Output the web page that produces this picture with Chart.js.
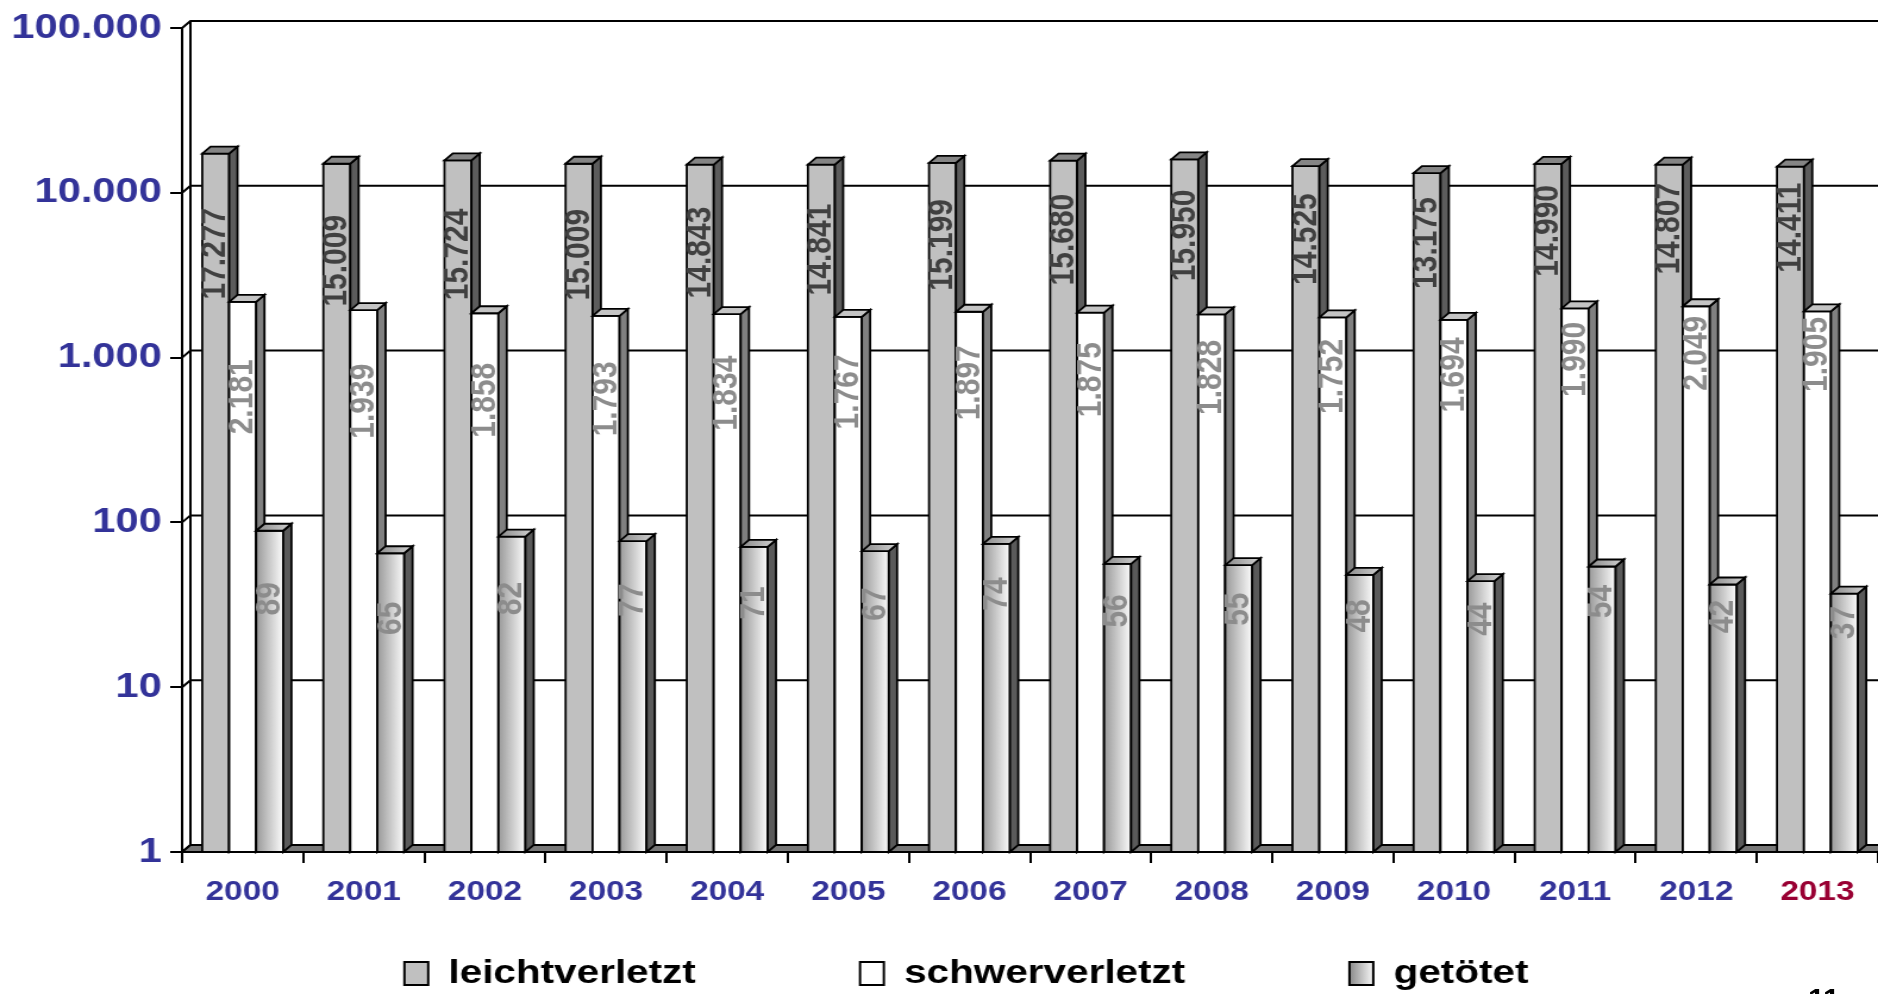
<!DOCTYPE html>
<html>
<head>
<meta charset="utf-8">
<title>Verunglückte 2000 - 2013</title>
<script src="https://cdn.jsdelivr.net/npm/chart.js@4.4.1/dist/chart.umd.min.js"></script>
<style>
    html, body { margin: 0; padding: 0; background: #fff; overflow: hidden; }
    #wrap { position: relative; width: 1878px; height: 994px; overflow: hidden; }
    /* the original picture is stretched sideways, so the canvas is drawn narrower and scaled up */
    #chart { display: block; width: 1878px !important; height: 994px !important; }
    #page { position: absolute; left: 1808px; top: 984px; font: bold 30px 'Liberation Sans', Arial, sans-serif; line-height: 30px; color: #000; }
</style>
</head>
<body>
<div id="wrap">
    <canvas id="chart" width="1578" height="994" style="width:1878px;height:994px"></canvas>
    <div id="page">11</div>
</div>
<script>
// Data
const years = ['2000', '2001', '2002', '2003', '2004', '2005', '2006', '2007', '2008', '2009', '2010', '2011', '2012', '2013'];
const leichtverletzt = [17277, 15009, 15724, 15009, 14843, 14841, 15199, 15680, 15950, 14525, 13175, 14990, 14807, 14411];
const schwerverletzt = [2181, 1939, 1858, 1793, 1834, 1767, 1897, 1875, 1828, 1752, 1694, 1990, 2049, 1905];
const getoetet = [89, 65, 82, 77, 71, 67, 74, 56, 55, 48, 44, 54, 42, 37];
const seriesNames = ['leichtverletzt', 'schwerverletzt', 'getötet'];
const yTickValues = [1, 10, 100, 1000, 10000, 100000];
const yTickLabels = ['1', '10', '100', '1.000', '10.000', '100.000'];

const FONT = "'Liberation Sans', Arial, sans-serif";
const DX = 7;   // 3d depth
const DY = -7;

Chart.defaults.font.family = FONT;

function fmt(v) {
    return String(v).replace(/\B(?=(\d{3})+(?!\d))/g, '.');
}

const canvas = document.getElementById('chart');
const ctx0 = canvas.getContext('2d');

// legend swatch for "getötet"
const legendGrad = ctx0.createLinearGradient(1134, 0, 1154, 0);
legendGrad.addColorStop(0, '#8a8a8a');
legendGrad.addColorStop(1, '#f8f8f8');

const barStyles = [
    { front: '#c0c0c0', top: '#858585', side: '#5c5c5c', label: '#404040', labelBase: 100, labelSlope: 3 },
    { front: '#ffffff', top: '#c4c4c4', side: '#808080', label: '#8c8c8c', labelBase: 95, labelSlope: 4 },
    { front: null, top: null, side: '#5a5a5a', label: '#8c8c8c', labelBase: 68, labelSlope: 3 }
];

function poly(c, pts, fill) {
    c.beginPath();
    c.moveTo(pts[0][0], pts[0][1]);
    for (let i = 1; i < pts.length; i++) c.lineTo(pts[i][0], pts[i][1]);
    c.closePath();
    c.fillStyle = fill;
    c.fill();
    c.stroke();
}

// Draws back wall, floor and 3d columns instead of the flat bars
const wall3d = {
    id: 'wall3d',
    afterLayout(chart) {
        const lg = chart.legend;
        if (!lg) return;
        lg.top = 956.5 - 138;
        lg.bottom = 1000;
        lg.left += 23;
        lg.right += 23;
    },
    beforeDatasetsDraw(chart) {
        const c = chart.ctx;
        const { left, right, top, bottom } = chart.chartArea;
        const y = chart.scales.y;
        c.save();
        c.strokeStyle = '#000';
        c.lineWidth = 2;

        // grid on the back wall
        yTickValues.forEach(v => {
            const py = y.getPixelForValue(v);
            c.beginPath();
            c.moveTo(left, py);
            c.lineTo(left + DX, py + DY);
            c.lineTo(right, py + DY);
            c.stroke();
        });
        c.beginPath();
        c.moveTo(left + DX, top + DY);
        c.lineTo(left + DX, bottom + DY);
        c.stroke();

        // floor
        poly(c, [[left, bottom], [left + DX, bottom + DY], [right + DX, bottom + DY], [right, bottom]], '#787878');

        // columns
        c.lineWidth = 1.8;
        c.lineJoin = 'miter';
        [0, 1, 2].forEach(d => {
            const st = barStyles[d];
            chart.getDatasetMeta(d).data.forEach(el => {
                const xl = el.x - el.width / 2;
                const xr = el.x + el.width / 2;
                const yt = el.y;
                const yb = el.base;
                let front = st.front;
                let topFill = st.top;
                if (d === 2) {
                    front = c.createLinearGradient(xl, 0, xr, 0);
                    front.addColorStop(0, '#999999');
                    front.addColorStop(1, '#fbfbfb');
                    topFill = c.createLinearGradient(xl, 0, xr + DX, 0);
                    topFill.addColorStop(0, '#8a8a8a');
                    topFill.addColorStop(1, '#d2d2d2');
                }
                poly(c, [[xl, yt], [xr, yt], [xr, yb], [xl, yb]], front);
                poly(c, [[xr, yt], [xr + DX, yt + DY], [xr + DX, yb + DY], [xr, yb]], st.side);
                poly(c, [[xl, yt], [xl + DX, yt + DY], [xr + DX, yt + DY], [xr, yt]], topFill);
            });
        });

        // value labels, rotated
        c.font = 'bold 30px ' + FONT;
        c.textAlign = 'center';
        c.textBaseline = 'middle';
        [0, 1, 2].forEach(d => {
            const st = barStyles[d];
            const values = chart.data.datasets[d].data;
            chart.getDatasetMeta(d).data.forEach((el, i) => {
                const off = st.labelBase - st.labelSlope * i;
                c.save();
                c.translate(el.x, el.y + off);
                c.rotate(-Math.PI / 2);
                c.fillStyle = st.label;
                c.fillText(fmt(values[i]), 0, 0);
                c.restore();
            });
        });

        c.restore();
        return false;
    }
};

new Chart(canvas, {
    type: 'bar',
    data: {
        labels: years,
        datasets: [
            { label: seriesNames[0], data: leichtverletzt, backgroundColor: '#c0c0c0', borderColor: '#000', borderWidth: 2 },
            { label: seriesNames[1], data: schwerverletzt, backgroundColor: '#ffffff', borderColor: '#000', borderWidth: 2 },
            { label: seriesNames[2], data: getoetet, backgroundColor: legendGrad, borderColor: '#000', borderWidth: 2 }
        ]
    },
    options: {
        responsive: false,
        animation: false,
        events: [],
        layout: { padding: { top: 25, left: 0, right: 0, bottom: 0 } },
        datasets: {
            bar: { categoryPercentage: 0.668, barPercentage: 1 }
        },
        plugins: {
            tooltip: { enabled: false },
            legend: {
                position: 'bottom',
                maxHeight: 64,
                labels: {
                    color: '#000',
                    font: { family: FONT, size: 34, weight: 'bold' },
                    boxWidth: 20,
                    boxHeight: 23,
                    padding: 138
                }
            }
        },
        scales: {
            x: {
                type: 'category',
                offset: true,
                grid: { display: true, drawOnChartArea: false, drawTicks: true, tickLength: 11, color: '#000', lineWidth: 2, offset: true },
                border: { display: true, color: '#000', width: 2 },
                ticks: {
                    color: c => (c.index === years.length - 1 ? '#990033' : '#333399'),
                    font: { family: FONT, size: 28, weight: 'bold' },
                    padding: 12,
                    maxRotation: 0,
                    autoSkip: false
                },
                afterFit: s => { s.height = 78; }
            },
            y: {
                type: 'logarithmic',
                min: 1,
                max: 100000,
                afterBuildTicks: s => { s.ticks = yTickValues.map(v => ({ value: v })); },
                grid: { drawOnChartArea: false, tickLength: 10, color: '#000', lineWidth: 2 },
                border: { display: true, color: '#000', width: 2 },
                ticks: {
                    callback: v => yTickLabels[yTickValues.indexOf(v)],
                    color: '#333399',
                    font: { family: FONT, size: 35, weight: 'bold' },
                    padding: 7
                },
                afterFit: s => { s.width = 153; }
            }
        }
    },
    plugins: [wall3d]
});
</script>
</body>
</html>
